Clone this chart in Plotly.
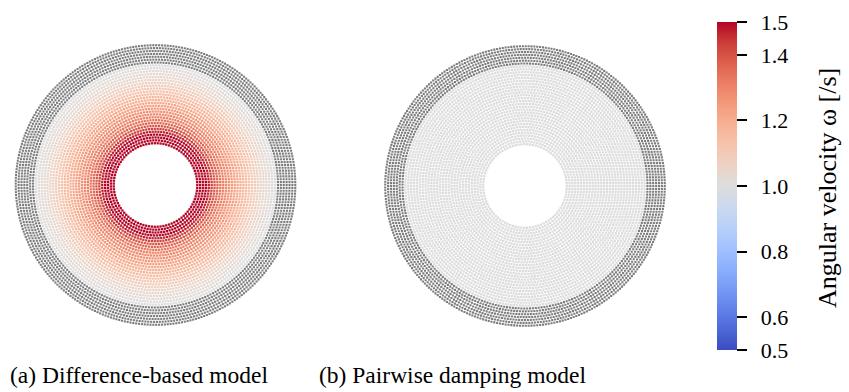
import numpy as np
import plotly.graph_objects as go

# Geometry of the annular domain (inner/outer cylinder radii, particle spacing)
R_INNER = 0.5
R_OUTER = 1.5
N_FLUID_LAYERS = 28
N_WALL_LAYERS = 7

# Angular velocity per fluid layer, innermost layer first
omega_difference = [1.60, 1.56, 1.53, 1.50, 1.47, 1.43, 1.39, 1.36, 1.33, 1.31,
                    1.29, 1.27, 1.25, 1.23, 1.21, 1.19, 1.17, 1.15, 1.13, 1.11,
                    1.09, 1.07, 1.05, 1.04, 1.03, 1.02, 1.01, 1.00]
omega_pairwise = [1.00, 1.00, 1.00, 1.00, 1.00, 1.00, 1.00, 1.00, 1.00, 1.00,
                  1.00, 1.00, 1.00, 1.00, 1.00, 1.00, 1.00, 1.00, 1.00, 1.00,
                  1.00, 1.00, 1.00, 1.00, 1.00, 1.00, 1.00, 1.00]

captions = ["(a) Difference-based model", "(b) Pairwise damping model"]
cbar_title = "Angular velocity ω [/s]"
cbar_ticks = [0.5, 0.6, 0.8, 1.0, 1.2, 1.4, 1.5]
cbar_labels = ["0.5", "0.6", "0.8", "1.0", "1.2", "1.4", "1.5"]

# matplotlib-style coolwarm diverging map
coolwarm = [
    [0.0, "rgb(59,76,192)"], [0.0625, "rgb(77,104,215)"], [0.125, "rgb(98,130,234)"],
    [0.1875, "rgb(119,154,246)"], [0.25, "rgb(141,176,254)"], [0.3125, "rgb(163,194,255)"],
    [0.375, "rgb(184,208,249)"], [0.4375, "rgb(204,217,238)"], [0.5, "rgb(221,221,221)"],
    [0.5625, "rgb(236,211,197)"], [0.625, "rgb(245,196,173)"], [0.6875, "rgb(247,177,148)"],
    [0.75, "rgb(244,154,123)"], [0.8125, "rgb(236,127,99)"], [0.875, "rgb(222,96,77)"],
    [0.9375, "rgb(203,62,56)"], [1.0, "rgb(180,4,38)"],
]

dp = (R_OUTER - R_INNER) / N_FLUID_LAYERS


def ring_particles(radii, values):
    xs, ys, cs = [], [], []
    for r, v in zip(radii, values):
        n = int(round(2 * np.pi * r / dp))
        th = np.linspace(0, 2 * np.pi, n, endpoint=False)
        xs.append(r * np.cos(th))
        ys.append(r * np.sin(th))
        cs.append(np.full(n, v))
    return np.concatenate(xs), np.concatenate(ys), np.concatenate(cs)


fluid_r = R_INNER + dp * (np.arange(N_FLUID_LAYERS) + 0.5)
wall_r = R_OUTER + dp * (np.arange(N_WALL_LAYERS) + 0.5)

W, H = 849, 392
SCALE = 80.7  # pixels per length unit
panels = [
    dict(cx=155.5, cy=185.0, dom=(0.0, 0.4), omega=omega_difference),
    dict(cx=525.0, cy=186.0, dom=(0.4, 0.8), omega=omega_pairwise),
]

fig = go.Figure()
layout_axes = {}
for k, p in enumerate(panels):
    sfx = "" if k == 0 else str(k + 1)
    xa, ya = "x" + sfx, "y" + sfx
    fx, fy, fc = ring_particles(fluid_r, p["omega"])
    wx, wy, _ = ring_particles(wall_r, [0.0] * N_WALL_LAYERS)
    fig.add_trace(go.Scatter(
        x=wx, y=wy, mode="markers", xaxis=xa, yaxis=ya, hoverinfo="skip",
        marker=dict(symbol="square", size=2.1, color="rgb(125,125,125)", line=dict(width=0)),
        showlegend=False,
    ))
    fig.add_trace(go.Scatter(
        x=fx, y=fy, mode="markers", xaxis=xa, yaxis=ya,
        marker=dict(symbol="square", size=2.3, color=fc, coloraxis="coloraxis",
                    line=dict(width=0)),
        showlegend=False,
    ))
    x0 = (p["dom"][0] * W - p["cx"]) / SCALE
    x1 = (p["dom"][1] * W - p["cx"]) / SCALE
    y0 = -(H - p["cy"]) / SCALE
    y1 = p["cy"] / SCALE
    common = dict(visible=False, showgrid=False, zeroline=False, fixedrange=True)
    layout_axes["xaxis" + sfx] = dict(domain=list(p["dom"]), range=[x0, x1], anchor=ya, **common)
    layout_axes["yaxis" + sfx] = dict(domain=[0, 1], range=[y0, y1], anchor=xa, **common)

fig.update_layout(**layout_axes)

serif = "Liberation Serif"
label_pad = "\u00a0\u2009"  # extra gap between tick marks and tick labels

fig.update_layout(
    width=W, height=H,
    margin=dict(l=0, r=0, t=0, b=0),
    paper_bgcolor="white", plot_bgcolor="white",
    font=dict(family=serif, color="black"),
    coloraxis=dict(
        colorscale=coolwarm, cmin=0.5, cmax=1.5,
        colorbar=dict(
            x=717 / W, xanchor="left", xpad=0, ypad=0,
            y=1 - 186 / H, yanchor="middle",
            len=328, lenmode="pixels", thickness=20, thicknessmode="pixels",
            outlinewidth=0,
            tickmode="array", tickvals=cbar_ticks,
            ticktext=[label_pad + t for t in cbar_labels],
            ticks="outside", ticklen=10, tickwidth=2, tickcolor="black",
            tickfont=dict(family=serif, size=22, color="black"),
        ),
    ),
    annotations=[
        dict(text=captions[0], xref="paper", yref="paper", x=8 / W, y=1 - 375 / H,
             xanchor="left", yanchor="middle", showarrow=False,
             font=dict(family=serif, size=23.5, color="black")),
        dict(text=captions[1], xref="paper", yref="paper", x=317 / W, y=1 - 375 / H,
             xanchor="left", yanchor="middle", showarrow=False,
             font=dict(family=serif, size=23.5, color="black")),
        dict(text=cbar_title, xref="paper", yref="paper", x=827 / W, y=1 - 188 / H,
             xanchor="center", yanchor="middle", textangle=-90, showarrow=False,
             font=dict(family=serif, size=26, color="black")),
    ],
)

fig.write_html("out.html")
